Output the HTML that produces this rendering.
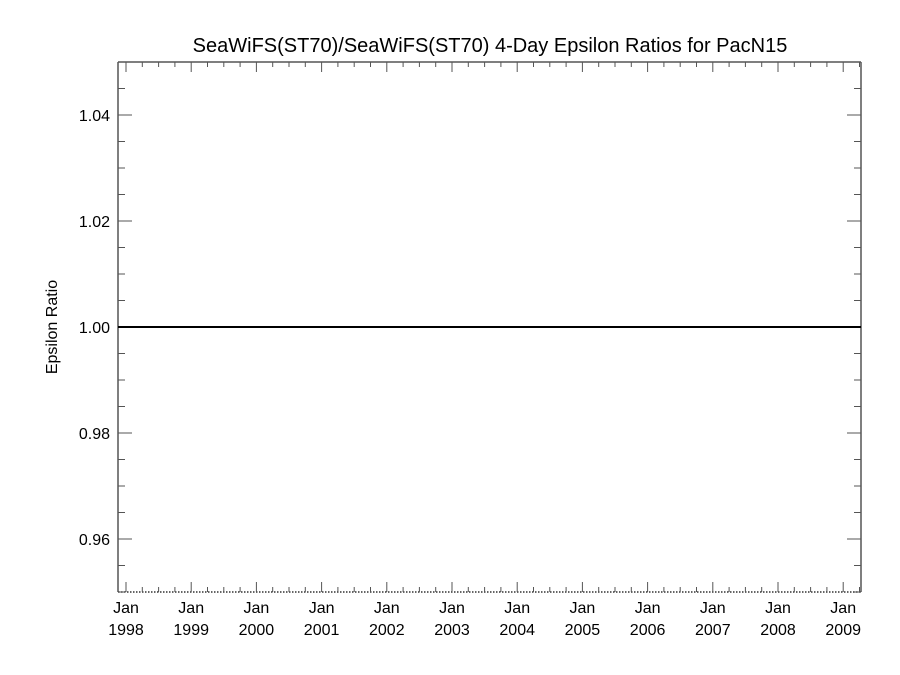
<!DOCTYPE html>
<html><head><meta charset="utf-8"><style>
html,body{margin:0;padding:0;background:#fff;}
svg{display:block;font-family:"Liberation Sans",Helvetica,Arial,sans-serif;}
</style></head><body>
<svg id="chart" width="900" height="675" viewBox="0 0 900 675" xmlns="http://www.w3.org/2000/svg">
<text x="490" y="52" font-size="20" text-anchor="middle" fill="#000">SeaWiFS(ST70)/SeaWiFS(ST70) 4-Day Epsilon Ratios for PacN15</text>
<text transform="translate(57,327) rotate(-90)" font-size="16" text-anchor="middle" fill="#000">Epsilon Ratio</text>
<g id="axes"></g>
<g id="series"></g>
</svg>
<script>
const yTicks = [0.96, 0.98, 1.00, 1.02, 1.04];
const yTickLabels = ["0.96", "0.98", "1.00", "1.02", "1.04"];
const xYears = [1998, 1999, 2000, 2001, 2002, 2003, 2004, 2005, 2006, 2007, 2008, 2009];
const seriesX = [1998.0, 2009.3];
const seriesY = [1.00, 1.00];

const L = 118, R = 861, T = 62, B = 592;
const yMin = 0.95, yMax = 1.05;
const x0 = 1997.9, x1 = 2009.28;
const X0px = 126, perYear = 65.2;
function xs(v){ return X0px + (v - 1998) * perYear; }
function ys(v){ return B - (v - yMin) / (yMax - yMin) * (B - T); }
const NS = "http://www.w3.org/2000/svg";
const axes = document.getElementById('axes');
function mk(tag, attrs, parent){
  const e = document.createElementNS(NS, tag);
  for (const k in attrs) e.setAttribute(k, attrs[k]);
  parent.appendChild(e); return e;
}
// frame
let e;
e = mk('line', {x1:L, y1:T, x2:L, y2:B, stroke:'#555', 'stroke-width':1.5}, axes);


e = mk('line', {x1:R, y1:T, x2:R, y2:B, stroke:'#555', 'stroke-width':1.5}, axes);


e = mk('line', {x1:L, y1:T, x2:R, y2:T, stroke:'#555', 'stroke-width':1.5}, axes);


e = mk('line', {x1:L, y1:B, x2:R, y2:B, stroke:'#333', 'stroke-width':1.5, 'stroke-dasharray':'1.5,1.5'}, axes);


// y ticks (minor every 0.005)
for (let i = 0; i <= 20; i++) {
  const v = yMin + i * 0.005;
  const y = ys(v);
  const major = Math.abs(((v*100) % 2 + 2) % 2) < 0.01 || Math.abs(((v*100) % 2) - 2) < 0.01;
  const len = major ? 14 : 7;
  e = mk('line', {x1:L, y1:y, x2:L+len, y2:y, stroke:'#555', 'stroke-width':1}, axes);
  
  
  e = mk('line', {x1:R, y1:y, x2:R-len, y2:y, stroke:'#555', 'stroke-width':1}, axes);
  
  
}
yTicks.forEach((v, i) => {
  const t = mk('text', {x:L-8, y:ys(v)+6, 'font-size':16, 'text-anchor':'end', fill:'#000'}, axes);
  
  
  t.textContent = yTickLabels[i];
});
// x ticks
xYears.forEach((yr) => {
  for (let q = 0; q < 4; q++) {
    const v = yr + q * 0.25;
    if (v > x1) break;
    const x = xs(v);
    const len = q === 0 ? 10 : 5;
    e = mk('line', {x1:x, y1:B, x2:x, y2:B-len, stroke:'#555', 'stroke-width':1}, axes);
    
    
    e = mk('line', {x1:x, y1:T, x2:x, y2:T+len, stroke:'#555', 'stroke-width':1}, axes);
    
    
  }
  const t1 = mk('text', {x:xs(yr), y:B+21, 'font-size':16, 'text-anchor':'middle', fill:'#000'}, axes);
  
  
  t1.textContent = 'Jan';
  const t2 = mk('text', {x:xs(yr), y:B+43, 'font-size':16, 'text-anchor':'middle', fill:'#000'}, axes);
  
  
  t2.textContent = String(yr);
});
// series
const sg = document.getElementById('series');
const pts = seriesX.map((x, i) => Math.max(L, Math.min(R, xs(x))) + ',' + ys(seriesY[i])).join(' ');
const pl = mk('polyline', {points: pts, fill:'none', stroke:'#000', 'stroke-width':2}, sg);


// extend to left axis
const first = mk('line', {x1:L, y1:ys(seriesY[0]), x2:xs(seriesX[0]), y2:ys(seriesY[0]), stroke:'#000', 'stroke-width':2}, sg);


</script>
</body></html>
